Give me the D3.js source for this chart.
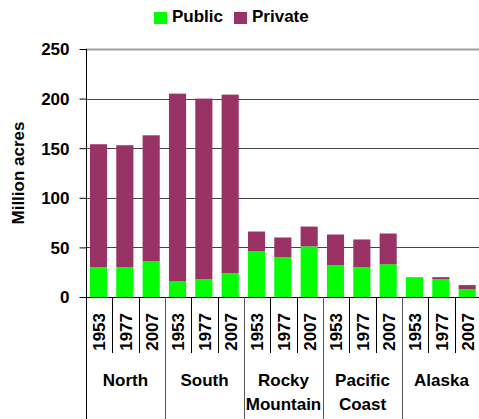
<!DOCTYPE html>
<html>
<head>
<meta charset="utf-8">
<script src="https://cdn.jsdelivr.net/npm/d3@7"></script>
<style>
html,body{margin:0;padding:0;background:#fff;}
svg text{font-family:"Liberation Sans",Arial,sans-serif;font-weight:bold;fill:#000;}
</style>
</head>
<body>
<svg id="chart" width="479" height="419"></svg>
<script>
const regions = ["North", "South", "Rocky Mountain", "Pacific Coast", "Alaska"];
const regionLines = [["North"], ["South"], ["Rocky", "Mountain"], ["Pacific", "Coast"], ["Alaska"]];
const years = ["1953", "1977", "2007"];
const publicAcres = [30, 30, 36, 16, 18, 24, 46, 40, 51, 32, 30, 33, 20, 18, 8];
const privateAcres = [124, 123, 127, 189, 182, 180, 20, 20, 20, 31, 28, 31, 0, 2, 4];
const yTicks = [0, 50, 100, 150, 200, 250];
const seriesNames = ["Public", "Private"];
const seriesColors = ["#00FF00", "#993366"];

(function () {
const svg = d3.select("#chart");
const pLeft = 86, pRight = 481, pTop = 49, pBottom = 297;

const keys = [];
regions.forEach((r, i) => years.forEach((yr, j) => keys.push(i + "|" + yr)));
const rows = keys.map((k, i) => ({key: k, region: +k.split("|")[0], year: k.split("|")[1], Public: publicAcres[i], Private: privateAcres[i]}));

const x = d3.scaleBand().domain(keys).range([pLeft, pRight]).padding(0);
const xg = d3.scaleBand().domain(regions).range([pLeft, pRight]).padding(0);
const y = d3.scaleLinear().domain([0, 250]).range([pBottom, pTop]);

// gridlines
svg.append("g").selectAll("line").data(yTicks.filter(t => t > 0)).join("line")
  .attr("x1", pLeft).attr("x2", pRight)
  .attr("y1", d => Math.round(y(d)) + 0.5).attr("y2", d => Math.round(y(d)) + 0.5)
  .attr("stroke", d => d === 250 ? "#a0a0a0" : "#444")
  .attr("stroke-width", d => d === 250 ? 2 : 1);

// stacked bars
const stack = d3.stack().keys(seriesNames)(rows);
const bw = x.bandwidth();
svg.append("g").selectAll("g").data(stack).join("g")
  .attr("fill", (d, i) => seriesColors[i])
  .selectAll("rect").data(d => d).join("rect")
  .attr("x", d => x(d.data.key) + bw * 0.15)
  .attr("width", bw * 0.65)
  .attr("y", d => y(d[1]))
  .attr("height", d => Math.max(0, y(d[0]) - y(d[1])));

// y axis
const yAxis = d3.axisLeft(y).tickValues(yTicks).tickSize(7).tickPadding(10);
const ga = svg.append("g").attr("transform", `translate(${pLeft + 0.5},0)`).call(yAxis);
ga.select(".domain").remove();
ga.selectAll(".tick line").attr("stroke", "#000");
ga.selectAll(".tick text").attr("font-size", "17px").attr("font-family", null).attr("dy", "0.35em");
svg.append("line").attr("x1", pLeft + 0.5).attr("x2", pLeft + 0.5).attr("y1", pTop).attr("y2", 419).attr("stroke", "#000");

// x baseline
svg.append("line").attr("x1", pLeft).attr("x2", pRight).attr("y1", Math.round(y(0)) + 0.5).attr("y2", Math.round(y(0)) + 0.5).attr("stroke", "#000");

// year separators
keys.forEach((k, i) => {
  if (i === 0) return;
  const xx = Math.round(x(k)) + 0.5;
  const isGroup = i % 3 === 0;
  svg.append("line").attr("x1", xx).attr("x2", xx).attr("y1", y(0)).attr("y2", isGroup ? 419 : 353)
    .attr("stroke", isGroup ? "#555" : "#000");
});

// year labels
svg.append("g").selectAll("text").data(rows).join("text")
  .attr("transform", d => `translate(${x(d.key) + bw / 2},313) rotate(-90)`)
  .attr("text-anchor", "end").attr("dy", "0.36em")
  .attr("font-size", "17px").text(d => d.year);

// region labels
regionLines.forEach((lines, i) => {
  const cx = xg(regions[i]) + xg.bandwidth() / 2;
  lines.forEach((ln, j) => {
    svg.append("text").attr("x", cx).attr("y", 386 + j * 24).attr("text-anchor", "middle")
      .attr("font-size", "17px").text(ln);
  });
});

// y title
svg.append("text").attr("transform", `translate(24,173) rotate(-90)`).attr("text-anchor", "middle")
  .attr("font-size", "17px").text("Million acres");

// legend
const legX = [154, 234];
seriesNames.forEach((s, i) => {
  svg.append("rect").attr("x", legX[i]).attr("y", 12).attr("width", 13).attr("height", 12).attr("fill", seriesColors[i]);
  svg.append("text").attr("x", legX[i] + 18).attr("y", 22).attr("font-size", "17px").text(s);
});
})();
</script>
</body>
</html>
